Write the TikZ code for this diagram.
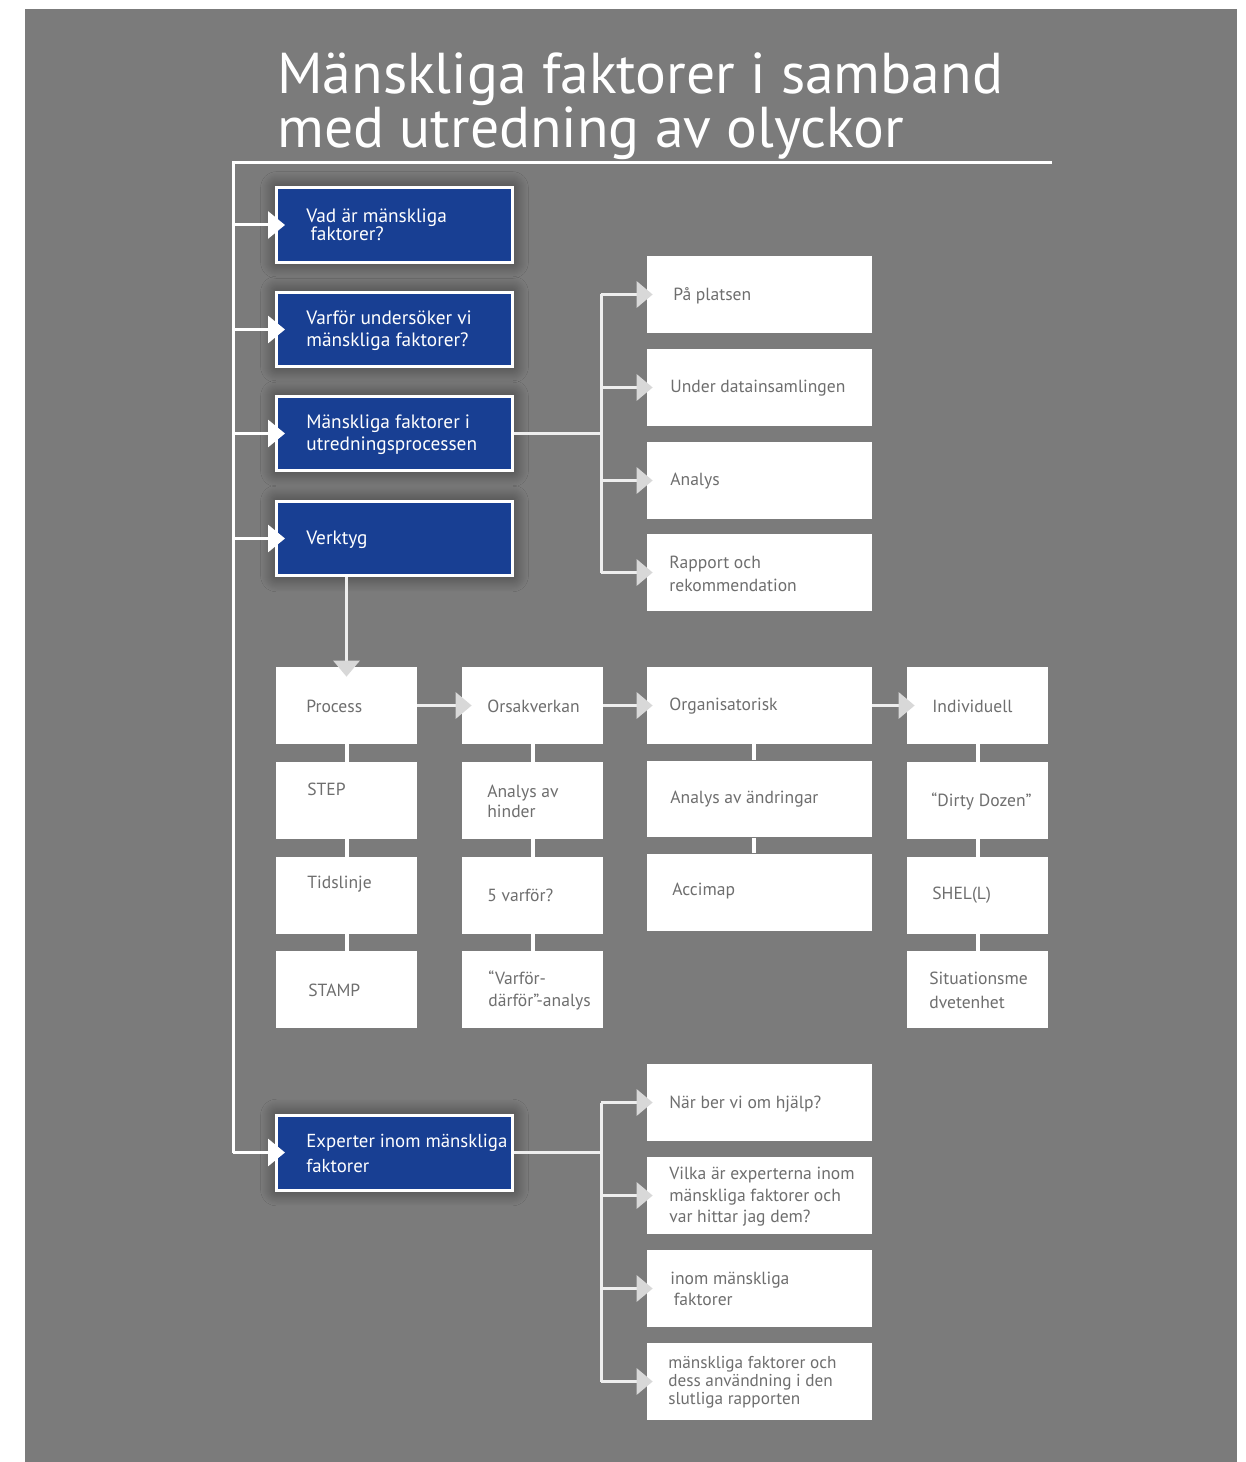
\documentclass[tikz,border=0pt]{standalone}
\usepackage{fontspec}
\setmainfont{PT Sans}
\newfontfamily\titlefont{PT Sans}
\usetikzlibrary{arrows.meta,shadows.blur}

\definecolor{bgGray}{HTML}{7B7B7B}
\definecolor{boxBlue}{HTML}{183F93}
\definecolor{txtGray}{HTML}{6E6E6E}
\definecolor{tipGray}{HTML}{D8D8D8}
\definecolor{lineWhite}{HTML}{EEEEEE}

\begin{document}
\begin{tikzpicture}[
        % 像素坐标 (1px = 0.02cm)
        x=0.02cm,
        y=-0.02cm,
        trunk/.style={draw=white, line width=0.06cm},
        bus/.style={draw=lineWhite, line width=0.06cm},
        link/.style={draw=white, line width=0.08cm},
        blueBox/.style={rectangle, fill=boxBlue, draw=white, line width=0.06cm,
            minimum width=4.72cm, minimum height=1.5cm, inner sep=0pt,
            blur shadow={shadow xshift=0pt, shadow yshift=0pt, shadow blur radius=9pt,
                shadow blur steps=16, shadow opacity=55}},
        whiteBox/.style={rectangle, fill=white, inner sep=0pt, minimum width=2.82cm, minimum height=1.54cm},
        wideBox/.style={whiteBox, minimum width=4.5cm},
        blueText/.style={anchor=west, inner sep=0pt, align=left, text=white, font=\fontsize{11}{12.8}\selectfont},
        grayText/.style={anchor=west, inner sep=0pt, align=left, text=txtGray, font=\fontsize{10}{12.5}\selectfont},
        % 箭头样式
        whiteArrow/.style={white, line width=0.06cm, -{Triangle[width=0.54cm, length=0.34cm]}, shorten >=-0.2cm},
        grayArrow/.style={lineWhite, line width=0.06cm, -{Triangle[width=0.52cm, length=0.32cm, color=tipGray]}}
    ]

        % --- 0. 背景 ---
        \useasboundingbox (0,0) rectangle (1245,1462);
        \fill[white] (0,0) rectangle (1245,1462);
        \fill[bgGray] (25,9) rectangle (1237,1462);

        % --- 1. 标题 ---
        \node[anchor=base west, inner sep=0pt, align=left, text=white,
            font=\titlefont\fontsize{32.8}{29.5}\selectfont] (title) at (277,148)
            {Mänskliga faktorer i samband\\med utredning av olyckor};

        % --- 2. 蓝色主框 ---
        \node[blueBox] (b1) at (394.5,225) {};
        \node[blueBox] (b2) at (394.5,329.5) {};
        \node[blueBox] (b3) at (394.5,433.5) {};
        \node[blueBox] (b4) at (394.5,538.5) {};
        \node[blueBox] (b5) at (394.5,1152.5) {};

        \node[blueText, font=\fontsize{11}{10.5}\selectfont] (b1t) at (306,225) {Vad är mänskliga\\\hspace{2.5pt}faktorer?};
        \node[blueText] (b2t) at (306,330.5) {Varför undersöker vi\\mänskliga faktorer?};
        \node[blueText] (b3t) at (306,434.5) {Mänskliga faktorer i\\utredningsprocessen};
        \node[blueText] (b4t) at (306,539.5) {Verktyg};
        \node[blueText, font=\fontsize{10.7}{14}\selectfont] (b5t) at (306,1153.5) {Experter inom mänskliga\\faktorer};

        % --- 3. 主干线 ---
        \coordinate (ruleR) at (1052,163);
        \coordinate (ruleL) at (233,163);
        \draw[trunk] (ruleR) -- (ruleL) -- (ruleL |- b5.west);
        \foreach \b in {b1,b2,b3,b4,b5}
            \draw[whiteArrow] (ruleL |- \b.west) -- (\b.west);

        % --- 4. 右侧白框 (utredningsprocessen) ---
        \foreach \n/\y in {r1/294.5, r2/387.5, r3/480.5, r4/572.5}
            \node[wideBox] (\n) at (759.5,\y) {};
        \coordinate (busA) at (601,433.5);
        \draw[bus] (b3.east) -- (busA);
        \draw[bus] (busA |- r1.west) -- (busA |- r4.west);
        \foreach \n in {r1,r2,r3,r4}
            \draw[grayArrow, shorten >=-0.12cm] (busA |- \n.west) -- (\n.west);

        \node[grayText] (r1t) at (673,295.5) {På platsen};
        \node[grayText] (r2t) at (670,388.5) {Under datainsamlingen};
        \node[grayText] (r3t) at (670,481.5) {Analys};
        \node[grayText, font=\fontsize{10}{13}\selectfont] (r4t) at (669,574) {Rapport och\\rekommendation};

        % --- 5. 工具网格 ---
        \foreach \n/\y in {p1/705.5, p2/800.5, p3/895.5, p4/989.5}
            \node[whiteBox] (\n) at (346.5,\y) {};
        \foreach \n/\y in {o1/705.5, o2/800.5, o3/895.5, o4/989.5}
            \node[whiteBox] (\n) at (532.5,\y) {};
        \foreach \n/\y in {g1/705.5, g2/799, g3/892}
            \node[wideBox] (\n) at (759.5,\y) {};
        \foreach \n/\y in {i1/705.5, i2/800.5, i3/895.5, i4/989.5}
            \node[whiteBox] (\n) at (977.5,\y) {};

        % 竖向连线
        \foreach \a/\b in {p1/p2, p2/p3, p3/p4, o1/o2, o2/o3, o3/o4, i1/i2, i2/i3, i3/i4}
            \draw[link] (\a.south) -- (\b.north);
        \foreach \a/\b in {g1/g2, g2/g3}
            \draw[link] ([xshift=-0.11cm]\a.south) -- ([xshift=-0.11cm]\b.north);

        % 横向箭头
        \draw[grayArrow, shorten >=-0.2cm] (b4.south -| p1) -- (p1.north);
        \draw[grayArrow, shorten >=-0.2cm] (p1.east) -- (o1.west);
        \draw[grayArrow, shorten >=-0.12cm] (o1.east) -- (g1.west);
        \draw[grayArrow, shorten >=-0.16cm] (g1.east) -- (i1.west);

        \node[grayText] (p1t) at (306,706.5) {Process};
        \node[grayText] (p2t) at (307,789) {STEP};
        \node[grayText] (p3t) at (307,884) {Tidslinje};
        \node[grayText] (p4t) at (308,990) {STAMP};
        \node[grayText, font=\fontsize{10}{11.5}\selectfont] (o1t) at (487,706.5) {Orsakverkan};
        \node[grayText, font=\fontsize{10}{11.5}\selectfont] (o2t) at (487,801) {Analys av\\hinder};
        \node[grayText] (o3t) at (487,895) {5 varför?};
        \node[grayText] (o4t) at (488,990) {“Varför-\\därför”-analys};
        \node[grayText] (g1t) at (669,706.5) {Organisatorisk};
        \node[grayText] (g2t) at (670,799) {Analys av ändringar};
        \node[grayText] (g3t) at (672,891) {Accimap};
        \node[grayText] (i1t) at (932,706.5) {Individuell};
        \node[grayText] (i2t) at (931,801) {“Dirty Dozen”};
        \node[grayText] (i3t) at (932,895) {SHEL(L)};
        \node[grayText, font=\fontsize{10}{13.5}\selectfont] (i4t) at (929,990) {Situationsme\\dvetenhet};

        % --- 6. 下方白框 (Experter) ---
        \foreach \n/\y in {e1/1102.5, e2/1195.5, e3/1288.5, e4/1381.5}
            \node[wideBox] (\n) at (759.5,\y) {};
        \coordinate (busB) at (601,1152.5);
        \draw[bus] (b5.east) -- (busB);
        \draw[bus] (busB |- e1.west) -- (busB |- e4.west);
        \foreach \n in {e1,e2,e3,e4}
            \draw[grayArrow, shorten >=-0.12cm] (busB |- \n.west) -- (\n.west);

        \node[grayText] (e1t) at (669,1104) {När ber vi om hjälp?};
        \node[grayText, font=\fontsize{10}{12.2}\selectfont] (e2t) at (669,1197) {Vilka är experterna inom\\mänskliga faktorer och\\var hittar jag dem?};
        \node[grayText, font=\fontsize{10}{12}\selectfont] (e3t) at (670,1289) {inom mänskliga\\\hspace{2pt}faktorer};
        \node[grayText, font=\fontsize{9.8}{10.2}\selectfont] (e4t) at (668,1382) {mänskliga faktorer och\\dess användning i den\\slutliga rapporten};

    \end{tikzpicture}
\end{document}
